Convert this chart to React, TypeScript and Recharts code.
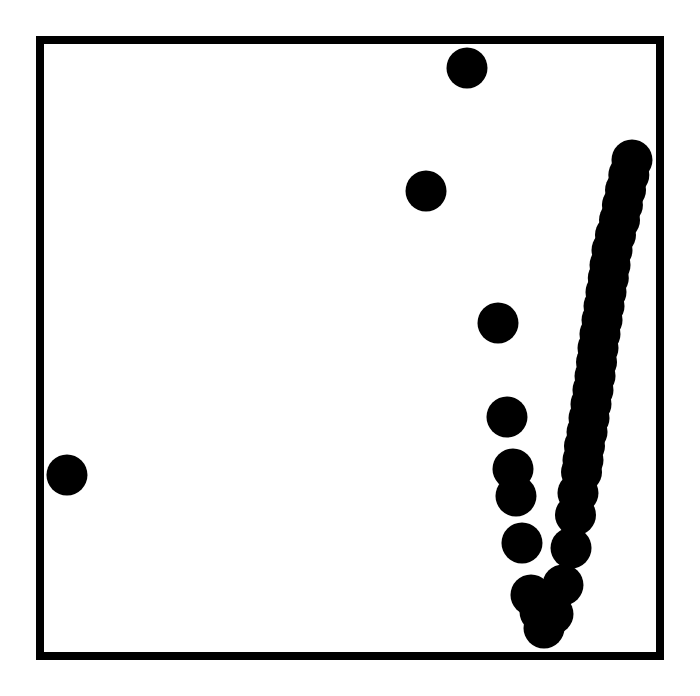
import React from 'react';
import { ScatterChart, Scatter, XAxis, YAxis, ReferenceArea } from 'recharts';

// values, both axes on a 0..100 scale
const xValues = [
  68.87, 62.26, 73.87, 4.35, 75.32, 76.29, 76.77, 77.74,
  95.48, 94.97, 94.44, 93.94, 93.47, 92.82, 92.26, 91.94, 91.66, 91.29,
  90.97, 90.65, 90.32, 90.0, 89.76, 89.52, 89.19, 88.87, 88.55, 88.23,
  87.82, 87.58, 87.34, 86.77, 86.37, 85.65,
  84.35, 79.19, 82.74, 80.65, 81.29,
];
const yValues = [
  95.45, 75.49, 54.06, 29.38, 38.8, 30.36, 25.97, 18.34,
  80.52, 78.08, 75.65, 73.21, 70.78, 68.34, 65.91, 63.47, 61.36, 59.09,
  56.82, 54.55, 52.27, 50.0, 47.73, 45.45, 43.18, 40.91, 38.64, 36.36,
  34.09, 31.82, 29.87, 26.46, 22.89, 17.53,
  11.53, 9.9, 6.82, 7.14, 4.55,
];

const points = xValues.map((x, i) => ({ x, y: yValues[i] }));

const Dot = (props: any) => <circle cx={props.cx} cy={props.cy} r={20.5} fill="#000" />;

export default function App() {
  return (
    <div style={{ position: 'absolute', top: 0, left: 0, width: 700, height: 696, background: '#fff' }}>
      <ScatterChart width={700} height={696} margin={{ top: 40, right: 40, bottom: 40, left: 40 }}>
        <XAxis type="number" dataKey="x" domain={[0, 100]} hide />
        <YAxis type="number" dataKey="y" domain={[0, 100]} hide />
        <ReferenceArea x1={0} x2={100} y1={0} y2={100} fill="none" stroke="#000" strokeWidth={8} />
        <Scatter data={points} shape={Dot} isAnimationActive={false} />
      </ScatterChart>
    </div>
  );
}
